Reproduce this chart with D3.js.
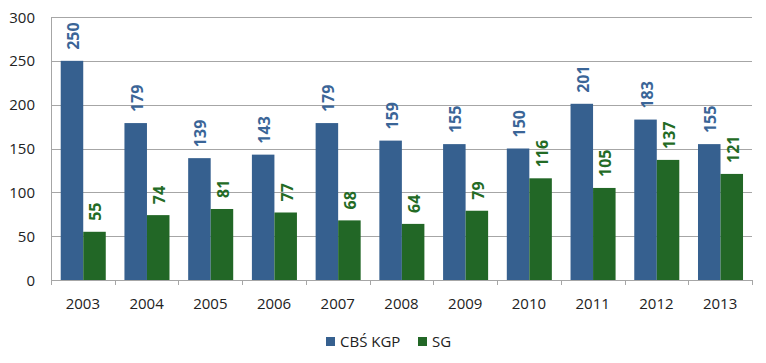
<html>
<head>
<style>
    body { margin: 0; background: #fff; }
    text { font-family: "Open Sans", "Liberation Sans", sans-serif; }
</style>
</head>
<body>
<svg id="chart" width="766" height="363"></svg>
<script src="https://cdn.jsdelivr.net/npm/d3@7"></script>
<script>
    let years = ["2003", "2004", "2005", "2006", "2007", "2008", "2009", "2010", "2011", "2012", "2013"]
    let cbsValues = [250, 179, 139, 143, 179, 159, 155, 150, 201, 183, 155]
    let sgValues = [55, 74, 81, 77, 68, 64, 79, 116, 105, 137, 121]
    let seriesNames = ["CBŚ KGP", "SG"]
    let yTicks = [0, 50, 100, 150, 200, 250, 300]

    let barColors = ["#36608f", "#226726"]
    let labelColors = ["#3a6597", "#236b25"]

    let svg = d3.select("#chart")
    let plotLeft = 51, plotRight = 752, plotTop = 17, plotBottom = 280

    let x = d3.scaleBand().domain(years).range([plotLeft, plotRight]).paddingInner(0).paddingOuter(0)
    let sub = d3.scaleBand().domain(seriesNames).range([0, x.bandwidth()]).paddingInner(0).paddingOuter(0.415).align(0.52)
    let y = d3.scaleLinear().domain([0, 300]).range([plotBottom, plotTop])

    // grid
    svg.append("g").selectAll("line")
        .data(yTicks)
        .enter().append("line")
        .attr("x1", plotLeft).attr("x2", plotRight)
        .attr("y1", d => Math.round(y(d)) + 0.5).attr("y2", d => Math.round(y(d)) + 0.5)
        .attr("stroke", "#a6a6a6").attr("stroke-width", 1)

    // y labels
    svg.append("g").selectAll("text")
        .data(yTicks)
        .enter().append("text")
        .attr("x", 35).attr("y", d => y(d) + 5.5)
        .attr("text-anchor", "end")
        .attr("font-size", 15)
        .attr("fill", "#222")
        .text(d => d)

    // axes lines
    svg.append("line").attr("x1", plotLeft + 0.5).attr("x2", plotLeft + 0.5).attr("y1", plotTop).attr("y2", plotBottom + 5)
        .attr("stroke", "#a6a6a6")
    svg.append("g").selectAll("line")
        .data(years)
        .enter().append("line")
        .attr("x1", d => Math.round(x(d) + x.bandwidth()) + 0.5)
        .attr("x2", d => Math.round(x(d) + x.bandwidth()) + 0.5)
        .attr("y1", plotBottom).attr("y2", plotBottom + 5)
        .attr("stroke", "#a6a6a6")

    // x labels
    svg.append("g").selectAll("text")
        .data(years)
        .enter().append("text")
        .attr("x", d => x(d) + x.bandwidth() / 2)
        .attr("y", 309)
        .attr("text-anchor", "middle")
        .attr("font-size", 15)
        .attr("fill", "#222")
        .text(d => d)

    let rows = []
    years.forEach((yr, i) => {
        rows.push({ year: yr, s: 0, v: cbsValues[i] })
        rows.push({ year: yr, s: 1, v: sgValues[i] })
    })

    svg.append("g").selectAll("rect")
        .data(rows)
        .enter().append("rect")
        .attr("x", d => x(d.year) + sub(seriesNames[d.s]))
        .attr("width", sub.bandwidth())
        .attr("y", d => y(d.v))
        .attr("height", d => plotBottom - y(d.v))
        .attr("fill", d => barColors[d.s])

    svg.append("g").selectAll("text")
        .data(rows)
        .enter().append("text")
        .attr("transform", d => {
            let cx = x(d.year) + sub(seriesNames[d.s]) + sub.bandwidth() / 2 + 7
            return "translate(" + cx + "," + (y(d.v) - 11) + ") rotate(-90)"
        })
        .attr("font-family", "DejaVu Sans, Verdana, sans-serif")
        .attr("font-weight", "bold")
        .attr("font-size", 16)
        .attr("fill", d => labelColors[d.s])
        .text(d => d.v)

    // legend
    let legendX = [326, 418]
    let legend = svg.append("g").selectAll("g")
        .data(seriesNames)
        .enter().append("g")
        .attr("transform", (d, i) => "translate(" + legendX[i] + ",337)")
    legend.append("rect").attr("width", 9).attr("height", 9).attr("fill", (d, i) => barColors[i])
    legend.append("text").attr("x", 14).attr("y", 10).attr("font-size", 15).attr("fill", "#222").text(d => d)
</script>
</body>
</html>
